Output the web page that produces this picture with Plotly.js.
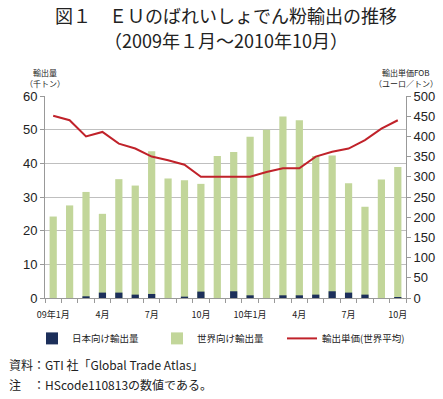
<!DOCTYPE html>
<html><head><meta charset="utf-8">
<script src="https://cdn.plot.ly/plotly-3.0.1.min.js"></script>
<style>html,body{margin:0;padding:0;background:#fff}#chart{width:443px;height:399px}</style>
</head><body><div id="chart"></div>
<script>
const months = [1,2,3,4,5,6,7,8,9,10,11,12,13,14,15,16,17,18,19,20,21,22];
const tickPos = [1,4,7,10,13,16,19,22];
const tickLabels = ["09年1月","4月","7月","10月","10年1月","4月","7月","10月"];
const worldExport = [24.2,27.5,31.5,25.0,35.3,33.4,43.6,35.5,35.0,33.9,42.2,43.4,47.9,50.0,53.9,52.8,42.2,42.3,34.1,27.1,35.2,38.9];
const japanExport = [0,0,0.5,1.6,1.6,1.0,1.2,0,0.4,1.9,0,2.0,0.8,0,0.8,0.8,1.0,2.0,1.6,1.0,0,0.3];
const unitPrice = [451,440,400,411,382,370,350,341,330,300,300,300,300,312,321,321,350,362,370,391,419,440];

const F = "Liberation Sans, Arial, 'Noto Sans CJK JP', sans-serif";
const J = "'Noto Sans CJK JP', sans-serif";

const data = [
  {type:'bar', x:months, y:worldExport, name:'世界向け輸出量', marker:{color:'#c2d69a'}, width:0.44, legendrank:2},
  {type:'bar', x:months, y:japanExport, name:'日本向け輸出量', marker:{color:'#1c2f5a'}, width:0.44, legendrank:1},
  {type:'scatter', mode:'lines', x:months, y:unitPrice, yaxis:'y2', name:'輸出単価(世界平均)', line:{color:'#c0222a', width:2}, legendrank:3}
];
const minorVals = [];
for (let i=0;i<=22;i++) minorVals.push(i+0.5);
const layout = {
  width:443, height:399,
  margin:{l:45, r:37, t:96, b:101},
  paper_bgcolor:'#fff', plot_bgcolor:'#fff',
  barmode:'overlay',
  showlegend:true,
  font:{family:F, size:11, color:'#222'},
  xaxis:{range:[0.5,22.5], tickvals:tickPos, ticktext:tickLabels, ticks:'', showgrid:false, zeroline:false,
    showline:true, linecolor:'#999', linewidth:1, ticklabelstandoff:8,
    tickfont:{family:J, size:9, color:'#222'},
    minor:{tickvals:minorVals, ticks:'outside', ticklen:4, tickcolor:'#999', showgrid:false}},
  yaxis:{range:[0,60], dtick:10, showgrid:true, gridcolor:'#bfbfbf', gridwidth:1, zeroline:false,
    showline:true, linecolor:'#999', ticks:'outside', ticklen:4, tickcolor:'#999', tickfont:{size:13}},
  yaxis2:{range:[0,500], dtick:50, overlaying:'y', side:'right', showgrid:false, zeroline:false,
    showline:true, linecolor:'#999', ticks:'outside', ticklen:4, tickcolor:'#999', tickfont:{size:13}},
  legend:{orientation:'h', x:-0.036, xanchor:'left', y:-0.2, yanchor:'middle', bgcolor:'rgba(0,0,0,0)', font:{family:J, size:9.5}, entrywidth:80, entrywidthmode:'pixels', traceorder:'normal'},
  annotations:[
    {text:'図１　ＥＵのばれいしょでん粉輸出の推移', xref:'paper', yref:'paper', x:0.5, y:1, yshift:81, xanchor:'center', yanchor:'middle', showarrow:false, font:{family:J, size:18, color:'#222'}},
    {text:'（2009年１月～2010年10月）', xref:'paper', yref:'paper', x:0.5, y:1, yshift:56, xanchor:'center', yanchor:'middle', showarrow:false, font:{family:J, size:18, color:'#222'}},
    {text:'輸出量', xref:'paper', yref:'paper', x:-0.0, y:1.0, yshift:31, xanchor:'center', showarrow:false, font:{family:J, size:8}},
    {text:'（千トン）', xref:'paper', yref:'paper', x:-0.0, y:1.0, yshift:20, xanchor:'center', showarrow:false, font:{family:J, size:8}},
    {text:'輸出単価FOB', xref:'paper', yref:'paper', x:1.0, y:1.0, yshift:31, xanchor:'center', showarrow:false, font:{family:J, size:8}},
    {text:'（ユーロ／トン）', xref:'paper', yref:'paper', x:1.0, y:1.0, yshift:20, xanchor:'center', showarrow:false, font:{family:J, size:8}},
    {text:'資料：GTI 社「Global Trade Atlas」', xref:'paper', yref:'paper', x:-0.105, y:-0.33, xanchor:'left', yanchor:'middle', showarrow:false, font:{family:J, size:12}},
    {text:'注　：HScode110813の数値である。', xref:'paper', yref:'paper', x:-0.105, y:-0.43, xanchor:'left', yanchor:'middle', showarrow:false, font:{family:J, size:12}}
  ]
};
Plotly.newPlot('chart', data, layout, {displayModeBar:false, staticPlot:true});
</script></body></html>
